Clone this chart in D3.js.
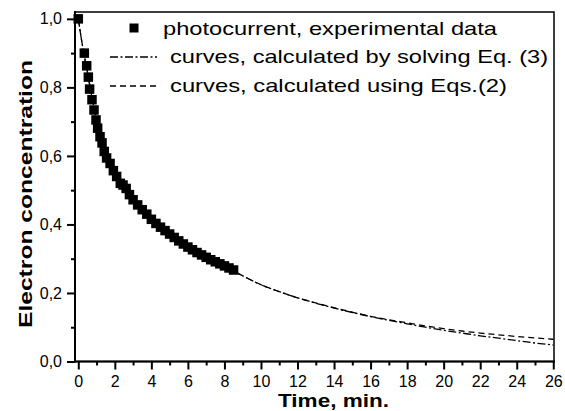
<!DOCTYPE html>
<html><head><meta charset="utf-8">
<script src="https://cdn.jsdelivr.net/npm/d3@7"></script>
<style>body{margin:0;background:#fff}svg{display:block}text{font-family:"Liberation Sans",Arial,sans-serif}</style>
</head><body><svg id="c" width="565" height="411"></svg>
<script>
// experimental photocurrent points
const expT = [0,0.33,0.46,0.55,0.62,0.75,0.86,0.97,1.06,1.19,1.30,1.42,1.55,1.74,1.92,2.10,2.30,2.45,2.62,2.80,3.0,3.25,3.5,3.75,4.0,4.25,4.5,4.75,5.0,5.25,5.5,5.75,6.0,6.25,6.5,6.75,7.0,7.25,7.5,7.75,8.0,8.25,8.5];
const expY = [1.0,0.90,0.863,0.83,0.795,0.764,0.734,0.705,0.681,0.656,0.638,0.613,0.594,0.578,0.557,0.54,0.52,0.515,0.505,0.487,0.472,0.457,0.443,0.43,0.415,0.403,0.392,0.382,0.372,0.362,0.352,0.343,0.334,0.326,0.318,0.311,0.304,0.297,0.291,0.285,0.279,0.273,0.267];
// curve calculated by solving Eq. (3)
const eq3T = [0,0.25,0.5,0.75,1,1.5,2,3,4,5,6,7,8,9,10,11,12,13,14,15,16,17,18,19,20,21,22,23,24,25,26];
const eq3Y = [1.0,0.915,0.845,0.77,0.705,0.612,0.55,0.47,0.413,0.37,0.333,0.303,0.278,0.25,0.224,0.204,0.186,0.17,0.156,0.143,0.131,0.12,0.11,0.1,0.091,0.083,0.075,0.068,0.061,0.054,0.048];
// curves calculated using Eqs.(2)
const eq2T = [0,0.25,0.5,0.75,1,1.5,2,3,4,5,6,7,8,9,10,11,12,13,14,15,16,17,18,19,20,21,22,23,24,25,26];
const eq2Y = [1.0,0.915,0.845,0.77,0.705,0.612,0.55,0.47,0.413,0.37,0.333,0.303,0.278,0.25,0.224,0.204,0.186,0.171,0.157,0.144,0.132,0.122,0.113,0.104,0.096,0.089,0.083,0.078,0.073,0.069,0.065];
const xMajor = [0,2,4,6,8,10,12,14,16,18,20,22,24,26];
const xMinor = [1,3,5,7,9,11,13,15,17,19,21,23,25];
const yMajor = [0,0.2,0.4,0.6,0.8,1.0];
const yMinor = [0.1,0.3,0.5,0.7,0.9];
const legendLabels = ["photocurrent, experimental data","curves, calculated by solving Eq. (3)","curves, calculated using Eqs.(2)"];

const svg = d3.select("#c");
const x = d3.scaleLinear().domain([-0.18,26.04]).range([75,554]);
const y = d3.scaleLinear().domain([0,1.02]).range([361.5,12]);
const fmt = d => d3.format(".1f")(d).replace(".",",");

function stretch(sel, target){ sel.each(function(){ this.setAttribute("textLength", target); this.setAttribute("lengthAdjust","spacingAndGlyphs"); }); }

// lines
const line = d3.line().x(d=>x(d[0])).y(d=>y(d[1])).curve(d3.curveMonotoneX);
svg.append("path").datum(eq2T.map((t,i)=>[t,eq2Y[i]])).attr("d",line)
  .attr("fill","none").attr("stroke","#000").attr("stroke-width",1.3).attr("stroke-dasharray","6,4");
svg.append("path").datum(eq3T.map((t,i)=>[t,eq3Y[i]])).attr("d",line)
  .attr("fill","none").attr("stroke","#000").attr("stroke-width",1.3).attr("stroke-dasharray","8,2.5,2,2.5");

// squares
const s = 9.5;
svg.append("g").selectAll("rect").data(expT.map((t,i)=>[t,expY[i]])).join("rect")
  .attr("x",d=>x(d[0])-s/2).attr("y",d=>y(d[1])-s/2).attr("width",s).attr("height",s).attr("fill","#000");

// axes
const gx = svg.append("g").attr("transform","translate(0,361.5)")
  .call(d3.axisBottom(x).tickValues(xMajor).tickSize(8).tickPadding(6).tickFormat(d3.format("d")));
const gxm = svg.append("g").attr("transform","translate(0,361.5)")
  .call(d3.axisBottom(x).tickValues(xMinor).tickSize(4).tickFormat(""));
const gy = svg.append("g").attr("transform","translate(75,0)")
  .call(d3.axisLeft(y).tickValues(yMajor).tickSize(8).tickPadding(5).tickFormat(fmt));
const gym = svg.append("g").attr("transform","translate(75,0)")
  .call(d3.axisLeft(y).tickValues(yMinor).tickSize(4).tickFormat(""));
[gx,gxm,gy,gym].forEach(g=>{ g.select(".domain").remove(); g.selectAll("line").attr("stroke-width",2); g.selectAll("text").attr("font-size",16).attr("font-family",null).attr("fill","#000"); });

// frame
svg.append("rect").attr("x",75).attr("y",12).attr("width",479).attr("height",349.5)
  .attr("fill","none").attr("stroke","#000").attr("stroke-width",1.5);
svg.append("line").attr("x1",75).attr("x2",75).attr("y1",11).attr("y2",362.5).attr("stroke","#000").attr("stroke-width",2);
svg.append("line").attr("x1",74).attr("x2",555).attr("y1",361.5).attr("y2",361.5).attr("stroke","#000").attr("stroke-width",2);

// axis titles
svg.append("text").attr("x",278).attr("y",407).attr("font-size",18).attr("font-weight","bold").text("Time, min.").call(stretch,111);
svg.append("text").attr("transform","translate(32,328) rotate(-90)").attr("font-size",18.5).attr("font-weight","bold").text("Electron concentration").call(stretch,268);

// legend
svg.append("rect").attr("x",134-4.5).attr("y",28-4.5).attr("width",9).attr("height",9).attr("fill","#000");
svg.append("line").attr("x1",110).attr("x2",157).attr("y1",57).attr("y2",57).attr("stroke","#000").attr("stroke-width",1.3).attr("stroke-dasharray","8,2.5,2,2.5");
svg.append("line").attr("x1",110).attr("x2",157).attr("y1",86).attr("y2",86).attr("stroke","#000").attr("stroke-width",1.3).attr("stroke-dasharray","6,4");
const lx = [163,170,170], ly=[34.5,63.3,91.7], lw=[334,378,337];
legendLabels.forEach((t,i)=>{
  svg.append("text").attr("x",lx[i]).attr("y",ly[i]).attr("font-size",19).text(t).call(stretch,lw[i]);
});
</script></body></html>
